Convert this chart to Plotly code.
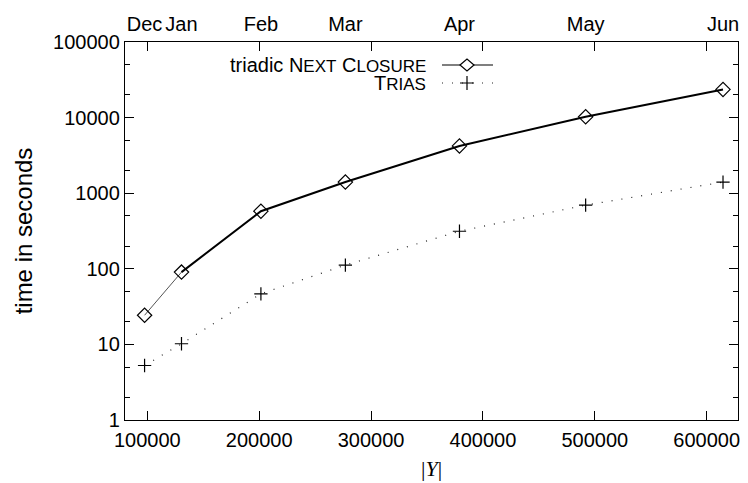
import plotly.graph_objects as go

# ---- data ----
months = ["Dec", "Jan", "Feb", "Mar", "Apr", "May", "Jun"]
sizes_y = [97500, 130500, 201500, 277000, 379000, 491800, 614600]   # |Y|
nc_time = [24.3, 90.4, 578, 1404, 4220, 10240, 23600]               # triadic Next Closure
trias_time = [5.26, 10.2, 46.7, 112, 314, 695, 1404]                # Trias

x_ticks = [100000, 200000, 300000, 400000, 500000, 600000]
y_ticks = [1, 10, 100, 1000, 10000, 100000]
y_minor = [v * m for v in [1, 10, 100, 1000, 10000] for m in (2, 5)]

FONT = "Liberation Sans"
FS = 20

fig = go.Figure()

# triadic NEXT CLOSURE: first segment thin, rest thick
fig.add_trace(go.Scatter(x=sizes_y[:2], y=nc_time[:2], mode="lines",
                         line=dict(color="#555555", width=1), showlegend=False,
                         hoverinfo="skip"))
fig.add_trace(go.Scatter(x=sizes_y[1:], y=nc_time[1:], mode="lines",
                         line=dict(color="black", width=2), showlegend=False))
fig.add_trace(go.Scatter(x=sizes_y, y=nc_time, mode="markers",
                         marker=dict(symbol="diamond-open", size=11, color="black",
                                     line=dict(width=1.2, color="black")),
                         showlegend=False))
# TRIAS
fig.add_trace(go.Scatter(x=sizes_y, y=trias_time, mode="lines+markers",
                         line=dict(color="#222222", width=1.2, dash="1px,9px"),
                         marker=dict(symbol="cross-thin-open", size=9.5, color="black",
                                     line=dict(width=1.2, color="black")),
                         showlegend=False))
# invisible trace carrying the top (month) axis
fig.add_trace(go.Scatter(x=sizes_y, y=nc_time, xaxis="x2", mode="markers",
                         marker=dict(opacity=0), showlegend=False, hoverinfo="skip"))

XR = [80000, 628000]

fig.update_layout(
    width=748, height=483,
    margin=dict(l=125, r=10, t=42, b=63),
    paper_bgcolor="white", plot_bgcolor="white",
    font=dict(family=FONT, size=FS, color="black"),
    xaxis=dict(range=XR, tickvals=x_ticks, ticktext=[str(v) for v in x_ticks],
               ticks="inside", ticklen=9, tickwidth=1, tickcolor="black",
               showline=True, linecolor="black", linewidth=1.3, mirror="ticks",
               showgrid=False, zeroline=False, ticklabelstandoff=2, automargin=False,
               title=dict(text="|<i>Y</i>|",
                          font=dict(family="Liberation Serif", size=22, color="black"),
                          standoff=10)),
    xaxis2=dict(range=XR, overlaying="x", side="top", tickvals=sizes_y, ticktext=months,
                ticks="", showline=False, showgrid=False, zeroline=False,
                ticklabelstandoff=6, automargin=False),
    yaxis=dict(type="log", range=[0, 5], tickvals=y_ticks, ticktext=[str(v) for v in y_ticks],
               ticks="inside", ticklen=9, tickwidth=1, tickcolor="black",
               minor=dict(tickvals=y_minor, ticks="inside", ticklen=5, tickcolor="black",
                          tickwidth=1),
               showline=True, linecolor="black", linewidth=1.3, mirror="ticks",
               showgrid=False, zeroline=False, automargin=False,
               title=dict(text="time in seconds", standoff=13)),
    showlegend=False,
)

# ---- manual legend (text left, key right, as in the reference) ----
def px(xp):
    return (xp - 125) / 613.0

def py(yp):
    return (420 - yp) / 378.0

sc = "font-size:17px"
labels = [f"triadic N<span style='{sc}'>EXT</span> C<span style='{sc}'>LOSURE</span>",
          f"T<span style='{sc}'>RIAS</span>"]
rows = [65, 83]
for lab, r in zip(labels, rows):
    fig.add_annotation(x=px(428), y=py(r), xref="paper", yref="paper", text=lab,
                       showarrow=False, xanchor="right", yanchor="middle",
                       font=dict(family=FONT, size=FS))

fig.add_shape(type="line", xref="paper", yref="paper", x0=px(442), x1=px(493),
              y0=py(65), y1=py(65), line=dict(color="black", width=1.2))
fig.add_shape(type="line", xref="paper", yref="paper", x0=px(442), x1=px(493),
              y0=py(83), y1=py(83), line=dict(color="#222222", width=1.2, dash="1px,9px"))
fig.add_shape(type="path", xref="paper", yref="paper", xsizemode="pixel", ysizemode="pixel",
              xanchor=px(467), yanchor=py(65), path="M-7,0 L0,6 L7,0 L0,-6 Z",
              fillcolor="white", line=dict(color="black", width=1.2))
fig.add_shape(type="path", xref="paper", yref="paper", xsizemode="pixel", ysizemode="pixel",
              xanchor=px(467), yanchor=py(83), path="M-7,0 L7,0 M0,-7 L0,7",
              line=dict(color="black", width=1.2))

fig.write_html("out.html")
